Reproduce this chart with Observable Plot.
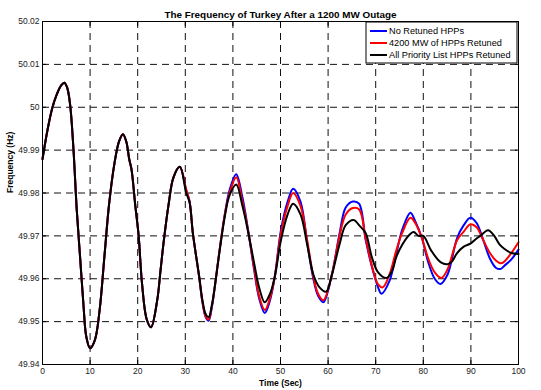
<!DOCTYPE html>
<html>
<head>
<meta charset="utf-8">
<script src="https://cdn.jsdelivr.net/npm/d3@7"></script>
<script src="https://cdn.jsdelivr.net/npm/@observablehq/plot@0.6"></script>
<style>
  html, body { margin: 0; padding: 0; background: #fff; }
  #chart { width: 541px; height: 390px; }
</style>
</head>
<body>
<div id="chart"></div>
<script>
const title = "The Frequency of Turkey After a 1200 MW Outage";
const xLabel = "Time (Sec)";
const yLabel = "Frequency (Hz)";
const seriesNames = ["No Retuned HPPs", "4200 MW of HPPs Retuned", "All Priority List HPPs Retuned"];
const seriesColors = ["#0000ff", "#ff0000", "#000000"];

const xTicks = [0, 10, 20, 30, 40, 50, 60, 70, 80, 90, 100];
const yTicks = [49.94, 49.95, 49.96, 49.97, 49.98, 49.99, 50, 50.01, 50.02];
const yTickLabels = ["49.94", "49.95", "49.96", "49.97", "49.98", "49.99", "50", "50.01", "50.02"];

// shared early part (all three cases nearly identical)
const commonT = [0, 1, 2, 3, 4, 4.6, 5.2, 5.8, 6.5, 7.2, 7.9, 8.6, 9.2, 10.0, 11.0, 12.0, 13.0, 14.0, 15.1, 16.1, 16.9, 17.6, 18.2, 18.7, 19.5, 20.2, 20.9, 21.9, 22.8, 24.1, 24.8, 25.5, 26.5, 27.5, 28.85];
const commonF = [49.9879, 49.9944, 49.9996, 50.003, 50.0052, 50.0057, 50.0045, 50.0006, 49.9903, 49.976, 49.965, 49.954, 49.9465, 49.9438, 49.9457, 49.9527, 49.9651, 49.9775, 49.9868, 49.9921, 49.9937, 49.992, 49.988, 49.9855, 49.977, 49.970, 49.959, 49.9505, 49.9487, 49.955, 49.962, 49.969, 49.9774, 49.9836, 49.9861];

const blueT = [30.2, 30.9, 31.6, 32.9, 33.6, 34.3, 34.9, 35.6, 36.3, 37, 38.3, 39.3, 40.7, 42, 43.1, 44.4, 45.5, 46.7, 47.8, 48.8, 50.1, 51.5, 52.65, 54.2, 55.6, 56.9, 57.9, 59, 60.7, 62.4, 63.7, 65.2, 66.5, 67.9, 69.2, 70.5, 71.2, 72.9, 74.3, 75.6, 77.3, 78.3, 79.7, 81, 82.4, 83.6, 85.1, 87.1, 88.5, 89.9, 91.2, 92.6, 94, 95.3, 96.3, 97, 98.5, 100];
const blueF = [49.9805, 49.978, 49.9705, 49.9605, 49.9545, 49.951, 49.9502, 49.9535, 49.959, 49.965, 49.975, 49.9807, 49.9844, 49.979, 49.972, 49.9625, 49.9555, 49.952, 49.955, 49.9605, 49.9714, 49.978, 49.981, 49.978, 49.9685, 49.960, 49.956, 49.9545, 49.9605, 49.9705, 49.9766, 49.978, 49.9775, 49.969, 49.9628, 49.958, 49.9565, 49.9595, 49.9657, 49.9715, 49.9754, 49.9734, 49.9695, 49.964, 49.960, 49.9588, 49.961, 49.9695, 49.9725, 49.9742, 49.973, 49.969, 49.9647, 49.9625, 49.9623, 49.963, 49.9645, 49.9668];

const redT = [30.2, 30.9, 31.6, 32.9, 33.6, 34.3, 34.9, 35.6, 36.3, 37, 38.3, 39.3, 40.7, 42, 43.1, 44.4, 45.5, 46.7, 47.8, 48.8, 50.1, 51.5, 52.65, 54.2, 55.6, 56.9, 57.9, 59, 60.7, 62.4, 63.7, 65.2, 66.5, 67.9, 69.2, 70.5, 71.5, 72.9, 74.3, 75.6, 77.3, 78.3, 79.7, 81, 82.4, 83.8, 85.1, 87.1, 88.5, 89.9, 91.2, 92.6, 94, 95.3, 96.3, 97, 98.5, 100];
const redF = [49.9808, 49.978, 49.9705, 49.9605, 49.9547, 49.9512, 49.9505, 49.9537, 49.959, 49.965, 49.975, 49.980, 49.9837, 49.978, 49.9718, 49.963, 49.956, 49.9527, 49.9555, 49.9605, 49.9706, 49.977, 49.980, 49.977, 49.969, 49.9605, 49.9565, 49.955, 49.9605, 49.970, 49.975, 49.9765, 49.9762, 49.9694, 49.963, 49.9587, 49.958, 49.961, 49.9665, 49.9708, 49.9742, 49.973, 49.9695, 49.9648, 49.9615, 49.9602, 49.9622, 49.969, 49.971, 49.9727, 49.972, 49.969, 49.966, 49.9642, 49.9636, 49.964, 49.966, 49.9685];

const blackT = [30.2, 30.9, 31.6, 32.9, 33.6, 34.3, 34.9, 35.6, 36.3, 37, 38.3, 39.3, 40.7, 42, 43.1, 44.4, 45.5, 46.7, 47.8, 48.8, 50.1, 51.5, 52.65, 54.2, 55.6, 56.9, 58.2, 59.6, 60.7, 62.4, 63.7, 65.4, 66.5, 67.9, 69.2, 70.5, 72.3, 73.5, 74.3, 75.6, 77.3, 78, 79, 80, 81.7, 83.7, 85.1, 86, 87.1, 88.5, 89.9, 91.2, 92, 93.6, 94.9, 96, 97, 98.5, 100];
const blackF = [49.980, 49.9778, 49.9705, 49.9607, 49.955, 49.9517, 49.951, 49.954, 49.959, 49.9648, 49.9745, 49.9795, 49.982, 49.977, 49.9715, 49.964, 49.958, 49.9545, 49.9565, 49.9605, 49.969, 49.975, 49.9775, 49.975, 49.968, 49.961, 49.958, 49.957, 49.9605, 49.968, 49.9725, 49.9737, 49.9725, 49.9706, 49.965, 49.9615, 49.9602, 49.962, 49.965, 49.968, 49.9705, 49.9709, 49.970, 49.970, 49.9665, 49.9638, 49.9634, 49.964, 49.966, 49.9675, 49.9682, 49.9694, 49.970, 49.9713, 49.970, 49.968, 49.967, 49.966, 49.9658];

function series(name, ts, fs) {
  const t = commonT.concat(ts), f = commonF.concat(fs);
  return t.map((d, i) => ({name, t: d, f: f[i]}));
}
const blueData = series(seriesNames[0], blueT, blueF);
const redData = series(seriesNames[1], redT, redF);
const blackData = series(seriesNames[2], blackT, blackF);

const font = "'Liberation Sans', Arial, sans-serif";

const chart = Plot.plot({
  width: 541,
  height: 390,
  marginLeft: 42,
  marginRight: 23,
  marginTop: 21,
  marginBottom: 26,
  style: {fontFamily: font, fontSize: "8.5px", color: "#000", background: "#fff"},
  x: {domain: [0, 100]},
  y: {domain: [49.94, 50.02]},
  marks: [
    Plot.gridX({ticks: xTicks, stroke: "#111", strokeOpacity: 1, strokeDasharray: "7,5"}),
    Plot.gridY({ticks: yTicks, stroke: "#111", strokeOpacity: 1, strokeDasharray: "7,5"}),
    Plot.axisX({ticks: xTicks, tickSize: 0, tickPadding: 3, tickFormat: d => String(d), label: null, fill: "#222"}),
    Plot.axisY({ticks: yTicks, tickSize: 0, tickPadding: 3, tickFormat: d => yTickLabels[yTicks.indexOf(d)], label: null, fill: "#222"}),
    Plot.axisX({ticks: xTicks, tickSize: -4, text: null, anchor: "bottom", label: null}),
    Plot.axisX({ticks: xTicks, tickSize: -4, text: null, anchor: "top", label: null}),
    Plot.axisY({ticks: yTicks, tickSize: -4, text: null, anchor: "left", label: null}),
    Plot.axisY({ticks: yTicks, tickSize: -4, text: null, anchor: "right", label: null}),
    Plot.line(blueData, {x: "t", y: "f", stroke: seriesColors[0], strokeWidth: 2, curve: "catmull-rom"}),
    Plot.line(redData, {x: "t", y: "f", stroke: seriesColors[1], strokeWidth: 2, curve: "catmull-rom"}),
    Plot.line(blackData, {x: "t", y: "f", stroke: seriesColors[2], strokeWidth: 2, curve: "catmull-rom"}),
    Plot.frame({stroke: "#000", strokeWidth: 1}),
    Plot.text([title], {frameAnchor: "top", dy: -11, fontWeight: "bold", fontSize: 9.9, fill: "#000"}),
    Plot.text([xLabel], {frameAnchor: "bottom", dy: 21, fontWeight: "bold", fontSize: 8.5, fill: "#000"}),
    Plot.text([yLabel], {frameAnchor: "left", dx: -32, rotate: -90, fontWeight: "bold", fontSize: 8.5, fill: "#000"})
  ]
});

document.getElementById("chart").appendChild(chart);

// legend inside the axes, top-right
const svg = d3.select(chart);
const lg = svg.append("g").attr("font-family", font).attr("font-size", "9.2px").attr("text-anchor", "start");
const lx = 366, ly = 22, lw = 151, lh = 41;
lg.append("rect").attr("x", lx).attr("y", ly).attr("width", lw).attr("height", lh)
  .attr("fill", "#fff").attr("stroke", "#000").attr("stroke-width", 1);
seriesNames.forEach((name, i) => {
  const yy = ly + 9 + i * 12;
  lg.append("line").attr("x1", lx + 4).attr("x2", lx + 21).attr("y1", yy).attr("y2", yy)
    .attr("stroke", seriesColors[i]).attr("stroke-width", 2);
  lg.append("text").attr("x", lx + 23).attr("y", yy).attr("dy", "0.35em")
    .attr("text-anchor", "start").attr("fill", "#000").text(name);
});
</script>
</body>
</html>
